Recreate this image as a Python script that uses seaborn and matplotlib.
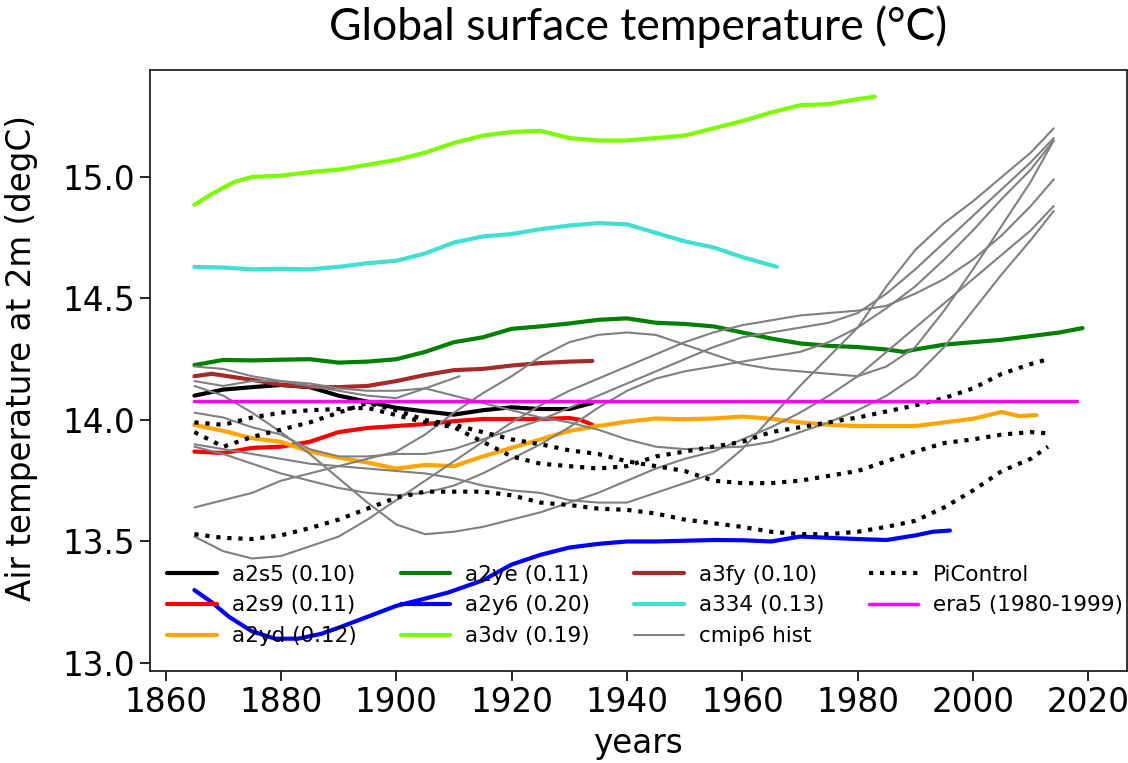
import matplotlib
matplotlib.use("Agg")
import matplotlib.pyplot as plt
import seaborn as sns

# ---- model runs (30-yr running means of global 2m air temperature, degC) ----
yrs_a2s5 = [1865, 1870, 1875, 1880, 1885, 1890, 1895, 1900, 1905, 1910, 1915, 1920, 1925, 1930, 1934]
val_a2s5 = [14.10, 14.125, 14.135, 14.144, 14.135, 14.10, 14.075, 14.05, 14.035, 14.022, 14.04, 14.052, 14.045, 14.045, 14.07]

yrs_a2s9 = [1865, 1870, 1875, 1880, 1885, 1890, 1895, 1900, 1905, 1910, 1915, 1920, 1925, 1930, 1932, 1934]
val_a2s9 = [13.87, 13.864, 13.885, 13.89, 13.91, 13.95, 13.967, 13.975, 13.983, 13.995, 14.004, 14.004, 14.004, 14.008, 14.0, 13.98]

yrs_a2yd = [1865, 1870, 1875, 1880, 1885, 1890, 1895, 1900, 1905, 1910, 1915, 1920, 1925, 1930, 1935,
            1940, 1945, 1950, 1955, 1960, 1965, 1970, 1975, 1980, 1985, 1990, 1995, 2000, 2005, 2008, 2011]
val_a2yd = [13.98, 13.955, 13.925, 13.91, 13.87, 13.845, 13.825, 13.80, 13.815, 13.81, 13.85, 13.885, 13.92, 13.955, 13.975,
            13.993, 14.006, 14.003, 14.006, 14.014, 14.005, 13.99, 13.98, 13.975, 13.975, 13.975, 13.99, 14.005, 14.033, 14.016, 14.02]

yrs_a2ye = [1865, 1870, 1875, 1880, 1885, 1890, 1895, 1900, 1905, 1910, 1915, 1920, 1925, 1930, 1935, 1940, 1945,
            1950, 1955, 1960, 1965, 1970, 1975, 1980, 1985, 1988, 1990, 1995, 2000, 2005, 2010, 2015, 2019]
val_a2ye = [14.226, 14.247, 14.245, 14.248, 14.25, 14.236, 14.24, 14.25, 14.28, 14.32, 14.34, 14.375, 14.385, 14.397, 14.412, 14.418, 14.40,
            14.395, 14.385, 14.36, 14.335, 14.315, 14.305, 14.30, 14.29, 14.28, 14.29, 14.31, 14.32, 14.33, 14.345, 14.36, 14.378]

yrs_a2y6 = [1865, 1868, 1871, 1875, 1879, 1883, 1887, 1890, 1895, 1900, 1905, 1909, 1915, 1920, 1925, 1930, 1935,
            1940, 1945, 1950, 1955, 1960, 1965, 1970, 1975, 1980, 1985, 1990, 1993, 1996]
val_a2y6 = [13.30, 13.25, 13.19, 13.13, 13.10, 13.10, 13.12, 13.145, 13.19, 13.235, 13.265, 13.29, 13.34, 13.405, 13.445, 13.475, 13.49,
            13.50, 13.50, 13.503, 13.506, 13.505, 13.50, 13.52, 13.515, 13.51, 13.506, 13.525, 13.54, 13.545]

yrs_a3dv = [1865, 1868, 1872, 1875, 1880, 1885, 1890, 1895, 1900, 1905, 1910, 1915, 1920, 1925, 1930, 1935,
            1940, 1945, 1950, 1955, 1960, 1965, 1970, 1975, 1980, 1983]
val_a3dv = [14.885, 14.93, 14.98, 15.0, 15.005, 15.02, 15.03, 15.05, 15.07, 15.10, 15.14, 15.17, 15.185, 15.19, 15.16, 15.15,
            15.15, 15.16, 15.17, 15.20, 15.23, 15.265, 15.295, 15.30, 15.32, 15.33]

yrs_a3fy = [1865, 1868, 1875, 1880, 1885, 1890, 1895, 1900, 1905, 1910, 1915, 1920, 1925, 1930, 1934]
val_a3fy = [14.18, 14.19, 14.165, 14.145, 14.136, 14.135, 14.14, 14.16, 14.185, 14.205, 14.21, 14.224, 14.234, 14.24, 14.243]

yrs_a334 = [1865, 1870, 1875, 1880, 1885, 1890, 1895, 1900, 1905, 1910, 1915, 1920, 1925, 1930, 1935,
            1940, 1945, 1950, 1955, 1960, 1963, 1966]
val_a334 = [14.63, 14.627, 14.62, 14.622, 14.62, 14.63, 14.645, 14.655, 14.685, 14.73, 14.755, 14.765, 14.785, 14.80, 14.81,
            14.805, 14.77, 14.735, 14.71, 14.67, 14.65, 14.63]

# ---- CMIP6 historical members ----
yrs_cmip = [1865, 1870, 1875, 1880, 1885, 1890, 1895, 1900, 1905, 1910, 1915, 1920, 1925, 1930, 1935, 1940,
            1945, 1950, 1955, 1960, 1965, 1970, 1975, 1980, 1985, 1990, 1995, 2000, 2005, 2010, 2014]
cmip_1 = [13.90, 13.88, 13.86, 13.84, 13.82, 13.81, 13.80, 13.79, 13.78, 13.76, 13.73, 13.71, 13.70, 13.67, 13.66, 13.66,
          13.70, 13.74, 13.78, 13.88, 14.01, 14.14, 14.26, 14.38, 14.55, 14.70, 14.81, 14.90, 15.00, 15.10, 15.20]
cmip_2 = [13.64, 13.67, 13.70, 13.75, 13.78, 13.81, 13.84, 13.87, 13.94, 14.03, 14.11, 14.18, 14.26, 14.32, 14.35, 14.36,
          14.35, 14.31, 14.27, 14.23, 14.21, 14.20, 14.19, 14.18, 14.22, 14.30, 14.45, 14.62, 14.80, 14.98, 15.15]
cmip_3 = [13.52, 13.46, 13.43, 13.44, 13.48, 13.52, 13.59, 13.67, 13.75, 13.83, 13.91, 13.99, 14.06, 14.12, 14.17, 14.22,
          14.27, 14.32, 14.36, 14.39, 14.41, 14.43, 14.44, 14.45, 14.47, 14.52, 14.58, 14.66, 14.76, 14.88, 14.99]
cmip_4 = [14.16, 14.14, 14.16, 14.16, 14.15, 14.13, 14.12, 14.12, 14.13, 14.10, 14.07, 14.04, 14.01, 13.99, 13.96, 13.92,
          13.89, 13.88, 13.885, 13.89, 13.91, 13.95, 13.99, 14.04, 14.10, 14.18, 14.30, 14.45, 14.60, 14.74, 14.86]
cmip_5 = [14.14, 14.10, 14.03, 13.95, 13.86, 13.76, 13.66, 13.57, 13.53, 13.54, 13.56, 13.59, 13.62, 13.66, 13.70, 13.75,
          13.80, 13.84, 13.87, 13.92, 13.97, 14.03, 14.10, 14.18, 14.28, 14.38, 14.48, 14.58, 14.68, 14.78, 14.88]
cmip_6 = [14.03, 14.01, 13.97, 13.94, 13.88, 13.85, 13.85, 13.86, 13.86, 13.88, 13.92, 13.96, 14.00, 14.05, 14.10, 14.15,
          14.20, 14.25, 14.30, 14.34, 14.36, 14.38, 14.40, 14.44, 14.52, 14.62, 14.73, 14.84, 14.95, 15.06, 15.16]
cmip_7 = [13.89, 13.86, 13.82, 13.78, 13.75, 13.72, 13.70, 13.69, 13.70, 13.73, 13.78, 13.84, 13.90, 13.97, 14.05, 14.12,
          14.17, 14.20, 14.22, 14.24, 14.26, 14.28, 14.32, 14.38, 14.46, 14.55, 14.66, 14.78, 14.91, 15.03, 15.15]
yrs_cmip_8 = [1865, 1870, 1875, 1880, 1885, 1890, 1895, 1900, 1905, 1911]
cmip_8 = [14.22, 14.21, 14.18, 14.16, 14.14, 14.12, 14.10, 14.09, 14.13, 14.18]

# ---- pre-industrial control segments ----
yrs_pi = [1865, 1870, 1875, 1880, 1885, 1890, 1895, 1900, 1905, 1910, 1915, 1920, 1925, 1930, 1935, 1940,
          1945, 1950, 1955, 1960, 1965, 1970, 1975, 1980, 1985, 1990, 1995, 2000, 2005, 2010, 2013]
pi_1 = [13.99, 13.98, 14.01, 14.03, 14.04, 14.045, 14.05, 14.02, 13.99, 13.97, 13.91, 13.85, 13.82, 13.81, 13.80, 13.81,
        13.85, 13.87, 13.89, 13.91, 13.95, 13.97, 13.99, 14.01, 14.035, 14.06, 14.09, 14.13, 14.19, 14.23, 14.25]
pi_2 = [13.95, 13.89, 13.93, 13.96, 13.99, 14.03, 14.07, 14.04, 14.00, 13.98, 13.95, 13.92, 13.90, 13.875, 13.86, 13.83,
        13.81, 13.79, 13.75, 13.74, 13.74, 13.75, 13.77, 13.79, 13.83, 13.87, 13.905, 13.92, 13.94, 13.95, 13.945]
pi_3 = [13.53, 13.515, 13.51, 13.525, 13.555, 13.59, 13.635, 13.68, 13.705, 13.705, 13.705, 13.69, 13.66, 13.65, 13.635, 13.63,
        13.615, 13.59, 13.575, 13.56, 13.54, 13.53, 13.53, 13.54, 13.56, 13.585, 13.64, 13.71, 13.79, 13.84, 13.89]

# ---- ERA5 1980-1999 climatology ----
yrs_era5 = [1865, 2018]
val_era5 = [14.08, 14.08]

x_ticks = [1860, 1880, 1900, 1920, 1940, 1960, 1980, 2000, 2020]
y_ticks = [13.0, 13.5, 14.0, 14.5, 15.0]

sns.set_style("ticks")
plt.rcParams["font.family"] = "sans-serif"
plt.rcParams["font.sans-serif"] = ["DejaVu Sans"]
for key in ("text.color", "axes.labelcolor", "xtick.color", "ytick.color"):
    plt.rcParams[key] = "black"

fig = plt.figure(figsize=(11.28, 7.63), dpi=100)
ax = fig.add_axes([150 / 1128, 92 / 763, 977 / 1128, 601 / 763])

runs = [
    ("a2s5 (0.10)", yrs_a2s5, val_a2s5, "black"),
    ("a2s9 (0.11)", yrs_a2s9, val_a2s9, "red"),
    ("a2yd (0.12)", yrs_a2yd, val_a2yd, "orange"),
    ("a2ye (0.11)", yrs_a2ye, val_a2ye, "green"),
    ("a2y6 (0.20)", yrs_a2y6, val_a2y6, "blue"),
    ("a3dv (0.19)", yrs_a3dv, val_a3dv, "lawngreen"),
    ("a3fy (0.10)", yrs_a3fy, val_a3fy, "brown"),
    ("a334 (0.13)", yrs_a334, val_a334, "turquoise"),
]
for lab, xs, ys, col in runs:
    sns.lineplot(x=xs, y=ys, ax=ax, color=col, lw=3.0, label=lab)

cmip_members = [(yrs_cmip, cmip_1), (yrs_cmip, cmip_2), (yrs_cmip, cmip_3), (yrs_cmip, cmip_4),
                (yrs_cmip, cmip_5), (yrs_cmip, cmip_6), (yrs_cmip, cmip_7), (yrs_cmip_8, cmip_8)]
for i, (xs, ys) in enumerate(cmip_members):
    sns.lineplot(x=xs, y=ys, ax=ax, color="grey", lw=1.5,
                 label="cmip6 hist" if i == 0 else None)

for i, ys in enumerate([pi_1, pi_2, pi_3]):
    sns.lineplot(x=yrs_pi, y=ys, ax=ax, color="black", lw=3.0, linestyle=":",
                 label="PiControl" if i == 0 else None)

sns.lineplot(x=yrs_era5, y=val_era5, ax=ax, color="magenta", lw=2.5, label="era5 (1980-1999)")

ax.set_xlim(1857.3, 2026.7)
ax.set_ylim(12.967, 15.44)
ax.set_xticks(x_ticks)
ax.set_yticks(y_ticks)
ax.tick_params(axis="both", labelsize=23.5, length=7, width=1.2, direction="out", colors="black")
ax.set_xlabel("years", fontsize=23.5, labelpad=6)
ax.set_ylabel("Air temperature at 2m (degC)", fontsize=23.5)
ax.yaxis.set_label_coords(-0.115, 0.52)
for s in ax.spines.values():
    s.set_linewidth(1.3)
    s.set_color("#222222")

ax.legend(ncol=4, loc="lower left", bbox_to_anchor=(0.0133, 0.034), frameon=False,
          fontsize=15.5, handlelength=2.3, handletextpad=0.7, columnspacing=2.05,
          labelspacing=0.5, borderpad=0.2, borderaxespad=0.0)

fig.text(638 / 1128, 1 - 27 / 763, "Global surface temperature (\u00b0C)",
         ha="center", va="center", fontsize=32, family=["Lato", "DejaVu Sans"])

fig.savefig("out.png", dpi=100)
